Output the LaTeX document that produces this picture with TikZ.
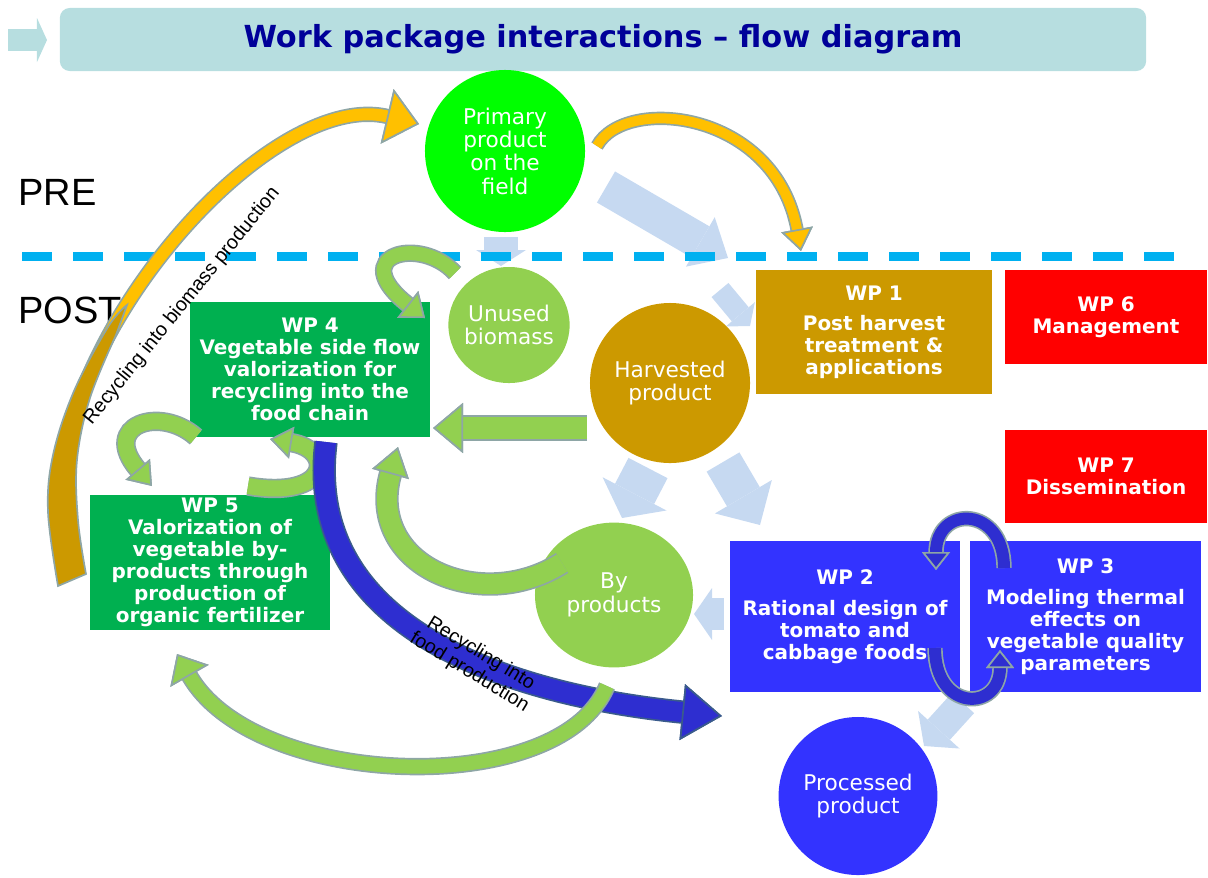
\documentclass[tikz,border=0pt]{standalone}
\usepackage{fontspec}
\setmainfont{DejaVu Sans}
\newfontfamily\arialfont{Liberation Sans}
\usetikzlibrary{shapes.geometric,arrows.meta}

\definecolor{titlebg}{HTML}{B7DEE0}
\definecolor{titletext}{HTML}{000099}
\definecolor{dashblue}{HTML}{00B0F0}
\definecolor{fieldgreen}{HTML}{00FF00}
\definecolor{leafgreen}{HTML}{92D050}
\definecolor{wpgreen}{HTML}{00B050}
\definecolor{harvestgold}{HTML}{CC9900}
\definecolor{wpred}{HTML}{FF0000}
\definecolor{wpblue}{HTML}{3333FF}
\definecolor{loopblue}{HTML}{2E2ED0}
\definecolor{paleblue}{HTML}{C6D9F1}
\definecolor{amber}{HTML}{FFC000}
\definecolor{arrline}{HTML}{8EA6A6}
\definecolor{navyline}{HTML}{3A5B8C}

\newcommand\titlefont{\fontsize{21.6}{24}\selectfont\bfseries}
\newcommand\boxfont{\fontsize{14.2}{15.6}\selectfont\bfseries}
\newcommand\blobfont{\fontsize{15.4}{16.6}\selectfont}
\newcommand\lblfont{\arialfont\fontsize{14}{15.5}\selectfont}
\newcommand\zonefont{\arialfont\fontsize{27}{30}\selectfont}

\begin{document}
\begin{tikzpicture}[x=0.025cm, y=-0.025cm,
    wpbox/.style={rectangle, inner sep=0pt, text=white, align=center, font=\boxfont},
    blob/.style={ellipse, inner sep=-4pt, text=white, align=center, font=\blobfont},
    zone/.style={font=\zonefont, inner sep=0pt, anchor=west},
    lbl/.style={font=\lblfont, align=center, inner sep=0pt},
    fatarrow/.style args={#1/#2/#3/#4}{draw=#1, line width=#2,
        -{Triangle[length=#3, width=#4, line width=0pt, fill=#1]}},
    bentarrow/.style args={#1/#2/#3/#4}{draw=#1, line width=#2,
        -{Triangle[length=#3, width=#4, line width=1.2pt, color=arrline, fill=#1]},
        preaction={draw=arrline, line width=#2+2.4pt,
            -{Triangle[length=#3, width=#4, line width=1.2pt, color=arrline, fill=arrline]}}}]
\useasboundingbox (0,0) rectangle (1208,877);

% title bar
\node[fill=titlebg, rounded corners=7pt, minimum width=27.15cm, minimum height=1.575cm,
      font=\titlefont, text=titletext] (title) at (603,39.5) {Work package interactions -- flow diagram};

%==================
% pale block arrows
\coordinate (t0) at (8,40);    \coordinate (t1) at (47,40);
\coordinate (p0) at (606,187); \coordinate (p1) at (728,258);
\coordinate (u0) at (501,237); \coordinate (u1) at (501,266);
\coordinate (w0) at (720,290); \coordinate (w1) at (750,326);
\coordinate (l0) at (648,468); \coordinate (l1) at (622,518);
\coordinate (r0) at (723,462); \coordinate (r1) at (760,525);
\coordinate (b0) at (724,614); \coordinate (b1) at (694,614);
\coordinate (d0) at (963,703); \coordinate (d1) at (924,746);
\draw[fatarrow={titlebg/0.53cm/0.25cm/1.1cm}] (t0) -- (t1);
\foreach \a/\wd/\len/\hw in {p/0.9cm/0.8cm/1.43cm, u/0.83cm/0.4cm/1.25cm,
        w/0.55cm/0.38cm/0.95cm, l/1.1cm/0.68cm/1.8cm, r/0.95cm/0.82cm/1.65cm,
        b/0.8cm/0.45cm/1.3cm, d/0.75cm/0.55cm/1.4cm}{
    \draw[fatarrow={paleblue/\wd/\len/\hw}] (\a0) -- (\a1);
}

% PRE / POST divider
\draw[dashblue, line width=6.4pt, dash pattern=on 0.75cm off 0.525cm] (22,256) -- (1185,256);
\node[zone] (pre) at (18,192) {PRE};
\node[zone] (post) at (18,310) {POST};

%==================
% products
\node[blob, fill=fieldgreen, minimum width=4cm, minimum height=4.05cm] (prim) at (505,151) {Primary\\product\\on the\\field};
\node[blob, fill=leafgreen, minimum width=3.03cm, minimum height=2.9cm] (unused) at (509,325) {Unused\\biomass};
\node[blob, fill=harvestgold, minimum width=4cm, minimum height=4cm] (harv) at (670,383) {Harvested\\product};
\node[blob, fill=leafgreen, minimum width=3.95cm, minimum height=3.62cm] (byprod) at (614,595) {By\\products};
\node[blob, fill=wpblue, minimum width=3.97cm, minimum height=3.95cm] (proc) at (858,796) {Processed\\product};

% work packages
\node[wpbox, fill=harvestgold, minimum width=5.9cm, minimum height=3.1cm] (wp1) at (874,332) {WP 1\\[5.7pt]Post harvest\\treatment \&\\applications};
\node[wpbox, fill=wpred, minimum width=5.05cm, minimum height=2.35cm] (wp6) at (1106,317) {WP 6\\Management};
\node[wpbox, fill=wpred, minimum width=5.05cm, minimum height=2.325cm] (wp7) at (1106,476.5) {WP 7\\Dissemination};
\node[wpbox, fill=wpblue, minimum width=5.75cm, minimum height=3.775cm] (wp2) at (845,616.5) {WP 2\\[6.4pt]Rational design of\\tomato and\\cabbage foods};
\node[wpbox, fill=wpblue, minimum width=5.775cm, minimum height=3.775cm] (wp3) at (1085.5,616.5) {WP 3\\[7pt]Modeling thermal\\effects on\\vegetable quality\\parameters};
\node[wpbox, fill=wpgreen, minimum width=6cm, minimum height=3.375cm] (wp4) at (310,369.5) {WP 4\\Vegetable side flow\\valorization for\\recycling into the\\food chain};
\node[wpbox, fill=wpgreen, minimum width=6cm, minimum height=3.375cm] (wp5) at (210,562.5) {WP 5\\Valorization of\\vegetable by-\\products through\\production of\\organic fertilizer};

%==================
% bent arrows
\coordinate (a0) at (72,580);  \coordinate (a1) at (419,124);
\coordinate (c0) at (597,146); \coordinate (c1) at (801,251);
\coordinate (e0) at (455,273); \coordinate (e1) at (425,318);
\coordinate (h0) at (587,428); \coordinate (h1) at (433,428);
\coordinate (k0) at (562,563); \coordinate (k1) at (398,447);
\coordinate (f0) at (196,437); \coordinate (f1) at (152,486);
\coordinate (g0) at (248,486); \coordinate (g1) at (270,439);
\coordinate (m0) at (607,686); \coordinate (m1) at (177,654);
\coordinate (n0) at (326,442); \coordinate (n1) at (722,716);
\coordinate (j0) at (1004,568); \coordinate (j1) at (936,570);
\coordinate (q0) at (935,648); \coordinate (q1) at (1000,650);

\draw[bentarrow={amber/0.3cm/0.82cm/1.4cm}] (a0) .. controls (-5,400) and (255,85) .. (a1);
% wide gold foot of the biomass arrow
\filldraw[fill=harvestgold, draw=arrline, line width=1.2pt]
    plot[smooth, tension=0.6] coordinates {(58,586) (48,512) (53,455) (74,391) (108,327) (127,305)}
    -- plot[smooth, tension=0.6] coordinates {(116,335) (90,398) (77,460) (78,520) (86,574)} -- cycle;
\draw[bentarrow={amber/0.25cm/0.55cm/0.8cm}] (c0) .. controls (625,95) and (775,110) .. (c1);
\draw[bentarrow={leafgreen/0.35cm/0.55cm/0.85cm}] (e0) .. controls (420,235) and (345,255) .. (e1);
\draw[bentarrow={leafgreen/0.55cm/0.75cm/1.25cm}] (h0) -- (h1);
\draw[bentarrow={leafgreen/0.5cm/0.7cm/0.95cm}] (k0) .. controls (480,615) and (365,565) .. (k1);
\draw[bentarrow={leafgreen/0.4cm/0.55cm/0.8cm}] (f0) .. controls (160,405) and (100,425) .. (f1);
\draw[bentarrow={leafgreen/0.4cm/0.55cm/0.8cm}] (g0) .. controls (330,500) and (335,450) .. (g1);
\begin{scope}
\colorlet{arrline}{navyline}
\draw[bentarrow={loopblue/0.5cm/1cm/1.4cm}] (n0) .. controls (300,650) and (560,700) .. (n1);
\end{scope}
\draw[bentarrow={leafgreen/0.35cm/0.63cm/1.1cm}] (m0) .. controls (560,800) and (255,790) .. (m1);
\draw[bentarrow={loopblue/0.3cm/0.45cm/0.7cm}] (j0) .. controls (1004,505) and (936,505) .. (j1);
\draw[bentarrow={loopblue/0.3cm/0.45cm/0.7cm}] (q0) .. controls (935,712) and (1000,712) .. (q1);

% arrow labels
\node[lbl, rotate=51] (biolabel) at (182,306) {Recycling into biomass production};
\node[lbl, rotate=-31.5] (foodlabel) at (475,663) {Recycling into\\food production};
\end{tikzpicture}
\end{document}
